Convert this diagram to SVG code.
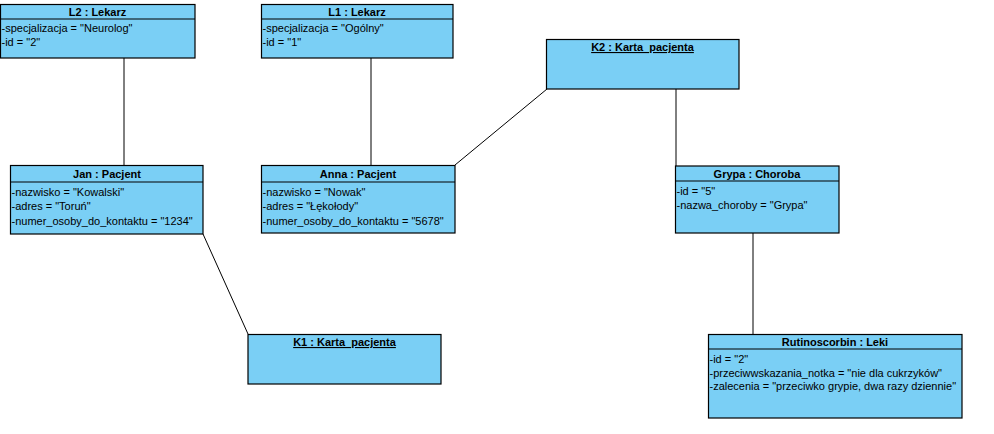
<svg xmlns="http://www.w3.org/2000/svg" width="994" height="434" viewBox="0 0 994 434">
<style>
.box{fill:#7ACFF5;stroke:#000;stroke-width:1.2}
.div{stroke:#000;stroke-width:1.2}
.hd{font-family:"Liberation Sans",Arial,sans-serif;font-size:11px;font-weight:bold;fill:#000;text-anchor:middle}
.ul{text-decoration:underline}
.at{font-family:"Liberation Sans",Arial,sans-serif;font-size:11px;fill:#000}
.cn{stroke:#000;stroke-width:1;fill:none}
</style>
<rect width="994" height="434" fill="#fff"/>
<g id="connectors">
<line class="cn" x1="124" y1="58" x2="124" y2="165"/>
<line class="cn" x1="371" y1="58" x2="371" y2="165"/>
<line class="cn" x1="455" y1="165" x2="547" y2="89"/>
<line class="cn" x1="676" y1="89" x2="676" y2="166"/>
<line class="cn" x1="203" y1="234" x2="248" y2="334"/>
<line class="cn" x1="753" y1="233" x2="753" y2="334"/>
</g>
<g id="L2">
<rect class="box" x="0.5" y="4.5" width="194.5" height="53.5"/>
<line class="div" x1="0.5" y1="19" x2="195" y2="19"/>
<text class="hd" x="97.5" y="15.5">L2 : Lekarz</text>
<text class="at" x="1.5" y="32">-specjalizacja = "Neurolog"</text>
<text class="at" x="1.5" y="46">-id = "2"</text>
</g>
<g id="L1">
<rect class="box" x="261.5" y="4.5" width="191.5" height="53.5"/>
<line class="div" x1="261.5" y1="19" x2="453" y2="19"/>
<text class="hd" x="357" y="15.5">L1 : Lekarz</text>
<text class="at" x="262.5" y="32">-specjalizacja = "Ogólny"</text>
<text class="at" x="262.5" y="46">-id = "1"</text>
</g>
<g id="K2">
<rect class="box" x="546.5" y="39.5" width="192.5" height="49.5"/>
<text class="hd ul" x="642.5" y="51">K2 : Karta_pacjenta</text>
</g>
<g id="Jan">
<rect class="box" x="10.5" y="165.5" width="192.5" height="68.5"/>
<line class="div" x1="10.5" y1="182" x2="203" y2="182"/>
<text class="hd" x="107" y="178">Jan : Pacjent</text>
<text class="at" x="11.5" y="195.5">-nazwisko = "Kowalski"</text>
<text class="at" x="11.5" y="210">-adres = "Toruń"</text>
<text class="at" x="11.5" y="224.5">-numer_osoby_do_kontaktu = "1234"</text>
</g>
<g id="Anna">
<rect class="box" x="261.5" y="165.5" width="193.5" height="67.5"/>
<line class="div" x1="261.5" y1="182" x2="455" y2="182"/>
<text class="hd" x="358" y="178">Anna : Pacjent</text>
<text class="at" x="262.5" y="195.5">-nazwisko = "Nowak"</text>
<text class="at" x="262.5" y="210">-adres = "Łękołody"</text>
<text class="at" x="262.5" y="224.5">-numer_osoby_do_kontaktu = "5678"</text>
</g>
<g id="Grypa">
<rect class="box" x="675.5" y="166" width="163.5" height="67"/>
<line class="div" x1="675.5" y1="181" x2="839" y2="181"/>
<text class="hd" x="757" y="177.5">Grypa : Choroba</text>
<text class="at" x="676.5" y="194.5">-id = "5"</text>
<text class="at" x="676.5" y="209">-nazwa_choroby = "Grypa"</text>
</g>
<g id="K1">
<rect class="box" x="248" y="334.5" width="193" height="49.5"/>
<text class="hd ul" x="344.5" y="346">K1 : Karta_pacjenta</text>
</g>
<g id="Rutinoscorbin">
<rect class="box" x="708.5" y="334.5" width="253.5" height="83.5"/>
<line class="div" x1="708.5" y1="349" x2="962" y2="349"/>
<text class="hd" x="835" y="345.5">Rutinoscorbin : Leki</text>
<text class="at" x="709.5" y="363">-id = "2"</text>
<text class="at" x="709.5" y="376.5">-przeciwwskazania_notka = "nie dla cukrzyków"</text>
<text class="at" x="709.5" y="390">-zalecenia = "przeciwko grypie, dwa razy dziennie"</text>
</g>
</svg>
